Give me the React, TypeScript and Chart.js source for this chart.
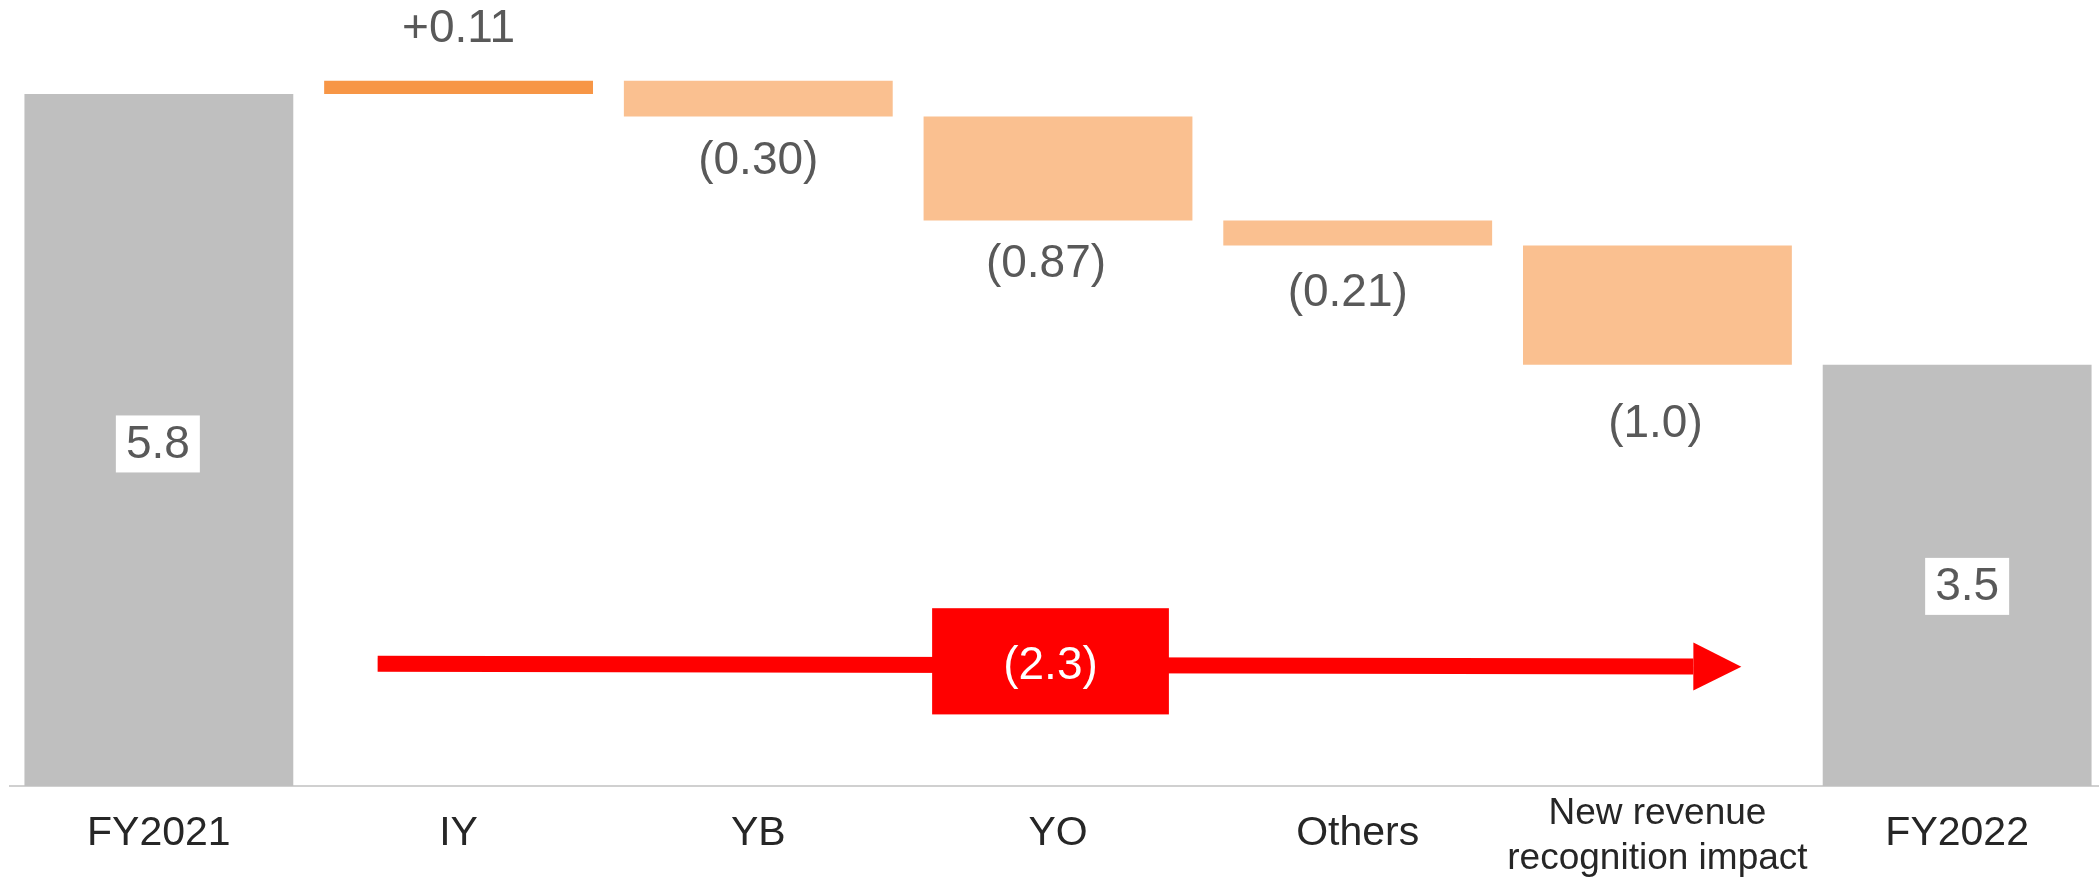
import React, { useEffect, useRef } from 'react';
import { Chart, registerables } from 'chart.js';

Chart.register(...registerables);

// ---------- data ----------
const categories: (string | string[])[] = [
  'FY2021',
  'IY',
  'YB',
  'YO',
  'Others',
  ['New revenue', 'recognition impact'],
  'FY2022',
];
const startTotal = 5.8;
const deltas = [0.11, -0.3, -0.87, -0.21, -1.0];
const valueLabels = ['5.8', '+0.11', '(0.30)', '(0.87)', '(0.21)', '(1.0)', '3.5'];
const totalChangeLabel = '(2.3)';
// arrow annotation in data space (x = category index, y = value)
const arrowFrom = [0.73, 1.025];
const arrowTo = [5.28, 1.0];
const changeBoxX = [2.58, 3.37];
const changeBoxY = [0.6, 1.49];

// ---------- derived floating ranges ----------
const ranges: [number, number][] = [];
ranges.push([0, startTotal]);
let level = startTotal;
for (const d of deltas) {
  ranges.push([level, level + d]);
  level += d;
}
ranges.push([0, level]);

// ---------- styles ----------
const FONT = '"Liberation Sans", Arial, Helvetica, sans-serif';
const GRAY = '#BFBFBF';
const ORANGE_DARK = '#F79646';
const ORANGE_LIGHT = '#FAC090';
const barColors = ranges.map((r, i) =>
  i === 0 || i === ranges.length - 1 ? GRAY : r[1] > r[0] ? ORANGE_DARK : ORANGE_LIGHT
);
const belowOffsets: Record<number, number> = { 2: 45, 3: 44, 4: 48, 5: 60 };
const labelDx: Record<number, number> = { 3: -12, 4: -10, 5: -2 };
const totalBoxOffsets: Record<number, [number, number]> = { 0: [-1, 4], 6: [10, 11] };

const overlayPlugin = {
  id: 'waterfallOverlay',
  afterDatasetsDraw(chart: any) {
    const ctx = chart.ctx as CanvasRenderingContext2D;
    const xs = chart.scales.x;
    const ys = chart.scales.y;
    ctx.save();
    ctx.font = `46px ${FONT}`;
    ctx.textAlign = 'center';
    ctx.textBaseline = 'middle';

    ranges.forEach((r, i) => {
      const cx = xs.getPixelForValue(i) + (labelDx[i] ?? 0);
      const top = ys.getPixelForValue(Math.max(r[0], r[1]));
      const bottom = ys.getPixelForValue(Math.min(r[0], r[1]));
      const label = valueLabels[i];
      if (i === 0 || i === ranges.length - 1) {
        const [dx, dy] = totalBoxOffsets[i] || [0, 0];
        const mx = cx + dx;
        const my = (top + bottom) / 2 + dy;
        ctx.fillStyle = '#FFFFFF';
        ctx.fillRect(mx - 42, my - 28.5, 84, 57);
        ctx.fillStyle = '#595959';
        ctx.fillText(label, mx, my + 1);
      } else if (r[1] > r[0]) {
        ctx.fillStyle = '#595959';
        ctx.fillText(label, cx, top - 51);
      } else {
        ctx.fillStyle = '#595959';
        ctx.fillText(label, cx, bottom + (belowOffsets[i] ?? 46));
      }
    });

    // arrow
    const sx = xs.getPixelForValue(arrowFrom[0]);
    const sy = ys.getPixelForValue(arrowFrom[1]);
    const ex = xs.getPixelForValue(arrowTo[0]);
    const ey = ys.getPixelForValue(arrowTo[1]);
    const ang = Math.atan2(ey - sy, ex - sx);
    const len = Math.hypot(ex - sx, ey - sy);
    ctx.save();
    ctx.translate(sx, sy);
    ctx.rotate(ang);
    ctx.fillStyle = '#FF0000';
    ctx.fillRect(0, -8, len - 48, 16);
    ctx.beginPath();
    ctx.moveTo(len - 48, -24);
    ctx.lineTo(len, 0);
    ctx.lineTo(len - 48, 24);
    ctx.closePath();
    ctx.fill();
    ctx.restore();

    // change box
    const bx0 = xs.getPixelForValue(changeBoxX[0]);
    const bx1 = xs.getPixelForValue(changeBoxX[1]);
    const by0 = ys.getPixelForValue(changeBoxY[1]);
    const by1 = ys.getPixelForValue(changeBoxY[0]);
    ctx.fillStyle = '#FF0000';
    ctx.fillRect(bx0, by0, bx1 - bx0, by1 - by0);
    ctx.fillStyle = '#FFFFFF';
    ctx.fillText(totalChangeLabel, (bx0 + bx1) / 2, (by0 + by1) / 2 + 5);

    ctx.restore();
  },
};

export default function App() {
  const canvasRef = useRef<HTMLCanvasElement | null>(null);

  useEffect(() => {
    document.body.style.margin = '0';
    document.body.style.overflow = 'hidden';
    const canvas = canvasRef.current;
    if (!canvas) return;
    const chart = new Chart(canvas, {
      type: 'bar',
      data: {
        labels: categories as any,
        datasets: [
          {
            data: ranges as any,
            backgroundColor: barColors,
            borderWidth: 0,
            barPercentage: 0.897,
            categoryPercentage: 1,
          },
        ],
      },
      options: {
        animation: false,
        responsive: false,
        devicePixelRatio: 1,
        layout: { padding: 0 },
        plugins: {
          legend: { display: false },
          tooltip: { enabled: false },
        },
        scales: {
          x: {
            offset: true,
            grid: { display: false, drawTicks: false },
            border: { display: true, color: '#D0D0D0', width: 2 },
            ticks: {
              color: '#262626',
              padding: 28,
              crossAlign: 'center',
              maxRotation: 0,
              minRotation: 0,
              autoSkip: false,
              font: (ctx: any) => ({ family: FONT, size: ctx.index === 5 ? 37 : 41 }),
            },
            afterFit: (scale: any) => {
              scale.height = 92;
            },
          },
          y: {
            display: false,
            min: 0,
            max: 6.52,
          },
        },
      },
      plugins: [overlayPlugin],
    });
    return () => chart.destroy();
  }, []);

  return (
    <div style={{ position: 'relative', width: 2099, height: 878, overflow: 'hidden', background: '#FFFFFF' }}>
      <canvas
        ref={canvasRef}
        width={2098}
        height={870}
        style={{ position: 'absolute', left: 9, top: 8, width: 2098, height: 870 }}
      />
    </div>
  );
}
